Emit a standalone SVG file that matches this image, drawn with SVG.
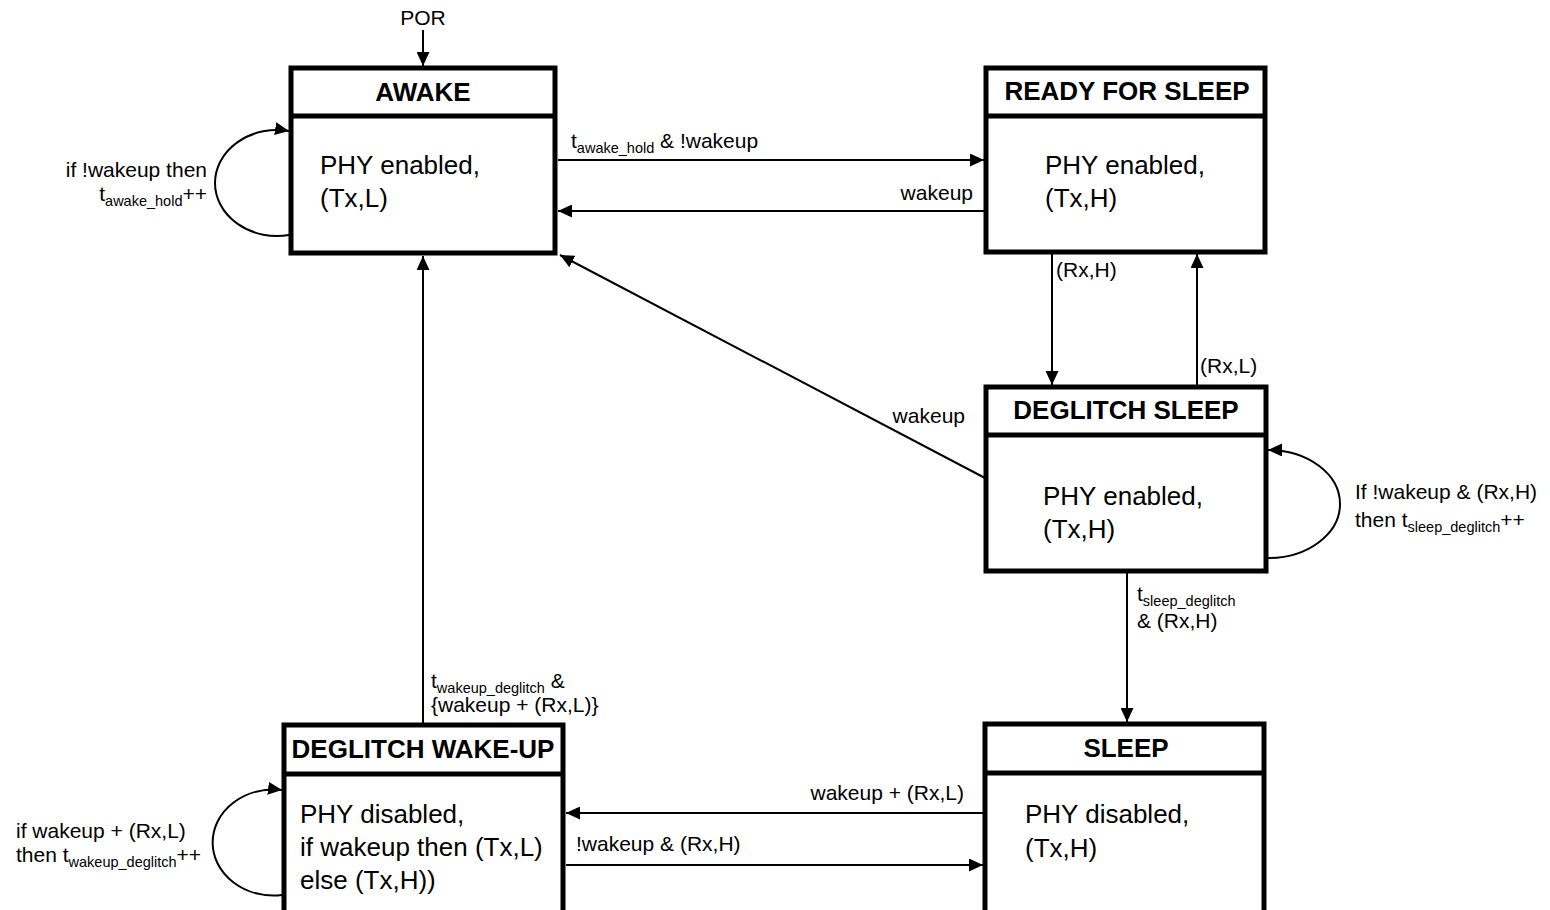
<svg xmlns="http://www.w3.org/2000/svg" width="1550" height="910" viewBox="0 0 1550 910">
<defs>
<marker id="ah" markerUnits="userSpaceOnUse" markerWidth="15" markerHeight="13" refX="14" refY="6.5" orient="auto">
<path d="M0,0 L14,6.5 L0,13 z" fill="#000"/>
</marker>
<style>
text{font-family:"Liberation Sans",Arial,Helvetica,sans-serif;fill:#000}
.box{fill:#fff;stroke:#000;stroke-width:5;stroke-linejoin:miter}
.div{stroke:#000;stroke-width:5}
.title{font-size:26px;font-weight:bold;text-anchor:middle}
.body{font-size:26px}
.lbl{font-size:21px}
.sub{font-size:14.5px}
.edge{fill:none;stroke:#000;stroke-width:2;marker-end:url(#ah)}
</style>
</defs>
<rect width="1550" height="910" fill="#fff"/>

<g id="awake">
<rect class="box" x="291" y="68" width="264" height="185"/>
<line class="div" x1="291" y1="116" x2="555" y2="116"/>
<text class="title" x="423" y="101">AWAKE</text>
<text class="body" x="320" y="174">PHY enabled,</text>
<text class="body" x="320" y="207">(Tx,L)</text>
</g>

<g id="ready_for_sleep">
<rect class="box" x="986" y="68" width="279" height="184"/>
<line class="div" x1="986" y1="116" x2="1265" y2="116"/>
<text class="title" x="1127" y="100">READY FOR SLEEP</text>
<text class="body" x="1045" y="174">PHY enabled,</text>
<text class="body" x="1045" y="207">(Tx,H)</text>
</g>

<g id="deglitch_sleep">
<rect class="box" x="986" y="387" width="280" height="184"/>
<line class="div" x1="986" y1="435" x2="1266" y2="435"/>
<text class="title" x="1126" y="419">DEGLITCH SLEEP</text>
<text class="body" x="1043" y="505">PHY enabled,</text>
<text class="body" x="1043" y="538">(Tx,H)</text>
</g>

<g id="deglitch_wakeup">
<rect class="box" x="284" y="725" width="279" height="195"/>
<line class="div" x1="284" y1="774" x2="563" y2="774"/>
<text class="title" x="423" y="758">DEGLITCH WAKE-UP</text>
<text class="body" x="300" y="823">PHY disabled,</text>
<text class="body" x="300" y="856">if wakeup then (Tx,L)</text>
<text class="body" x="300" y="889">else (Tx,H))</text>
</g>

<g id="sleep">
<rect class="box" x="985" y="724" width="279" height="196"/>
<line class="div" x1="985" y1="773" x2="1264" y2="773"/>
<text class="title" x="1126" y="757">SLEEP</text>
<text class="body" x="1025" y="823">PHY disabled,</text>
<text class="body" x="1025" y="857">(Tx,H)</text>
</g>

<g id="connectors">
<line class="edge" x1="423" y1="30" x2="423" y2="66"/>
<line class="edge" x1="558" y1="160" x2="984" y2="160"/>
<line class="edge" x1="984" y1="211" x2="558" y2="211"/>
<line class="edge" x1="1052" y1="254" x2="1052" y2="385"/>
<line class="edge" x1="1197" y1="385" x2="1197" y2="254"/>
<line class="edge" x1="985" y1="478" x2="560" y2="255"/>
<line class="edge" x1="1127" y1="573" x2="1127" y2="722"/>
<line class="edge" x1="983" y1="813" x2="566" y2="813"/>
<line class="edge" x1="566" y1="865" x2="983" y2="865"/>
<line class="edge" x1="423" y1="723" x2="423" y2="256"/>
<path class="edge" d="M 289 235 A 62 53 0 1 1 289 131"/>
<path class="edge" d="M 1268 558 A 72 54 0 1 0 1268 450"/>
<path class="edge" d="M 282 895 A 61 53 0 1 1 282 790"/>
</g>

<g id="labels">
<text class="lbl" x="423" y="25" text-anchor="middle">POR</text>
<text class="lbl" x="571" y="148">t<tspan class="sub" dy="5">awake_hold</tspan><tspan dy="-5"> &amp; !wakeup</tspan></text>
<text class="lbl" x="973" y="200" text-anchor="end">wakeup</text>
<text class="lbl" x="1056" y="277">(Rx,H)</text>
<text class="lbl" x="1200" y="373">(Rx,L)</text>
<text class="lbl" x="965" y="423" text-anchor="end">wakeup</text>
<text class="lbl" x="1355" y="499">If !wakeup &amp; (Rx,H)</text>
<text class="lbl" x="1355" y="527">then t<tspan class="sub" dy="5">sleep_deglitch</tspan><tspan dy="-5">++</tspan></text>
<text class="lbl" x="1137" y="601">t<tspan class="sub" dy="5">sleep_deglitch</tspan></text>
<text class="lbl" x="1137" y="628">&amp; (Rx,H)</text>
<text class="lbl" x="431" y="688">t<tspan class="sub" dy="5">wakeup_deglitch</tspan><tspan dy="-5"> &amp;</tspan></text>
<text class="lbl" x="431" y="712">{wakeup + (Rx,L)}</text>
<text class="lbl" x="964" y="800" text-anchor="end">wakeup + (Rx,L)</text>
<text class="lbl" x="576" y="851">!wakeup &amp; (Rx,H)</text>
<text class="lbl" x="16" y="838">if wakeup + (Rx,L)</text>
<text class="lbl" x="16" y="862">then t<tspan class="sub" dy="5">wakeup_deglitch</tspan><tspan dy="-5">++</tspan></text>
<text class="lbl" x="207" y="177" text-anchor="end">if !wakeup then</text>
<text class="lbl" x="207" y="201" text-anchor="end">t<tspan class="sub" dy="5">awake_hold</tspan><tspan dy="-5">++</tspan></text>
</g>
</svg>
